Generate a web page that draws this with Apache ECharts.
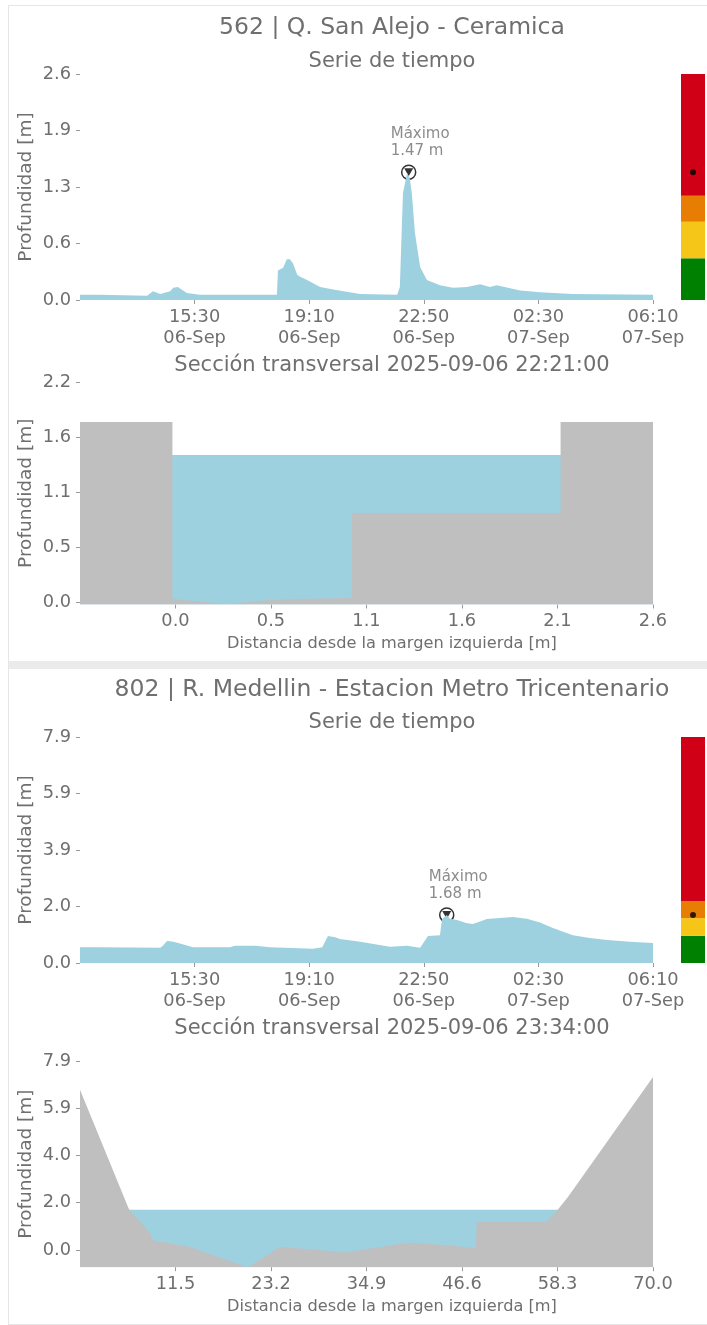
<!DOCTYPE html>
<html>
<head>
<meta charset="utf-8">
<script src="https://cdn.jsdelivr.net/npm/echarts@6/dist/echarts.min.js"></script>
<style>
html,body{margin:0;padding:0;background:#fff;overflow:hidden;width:707px;height:1325px;}
#frame{position:absolute;left:8px;top:5px;width:740px;height:1320px;border:1px solid #e6e6e6;box-sizing:border-box;}
#sep{position:absolute;left:9px;top:661px;width:720px;height:8px;background:#ebebeb;}
#chart{position:absolute;left:0;top:0;width:707px;height:1325px;}
</style>
</head>
<body>
<div id="frame"></div>
<div id="sep"></div>
<div id="chart"></div>
<script>
// ---------- DATA ----------
// Time axis: minutes since 2025-09-06 11:50
const tsTickMinutes = [220, 440, 660, 880, 1100];
const tsTickLabels = ['15:30\n06-Sep', '19:10\n06-Sep', '22:50\n06-Sep', '02:30\n07-Sep', '06:10\n07-Sep'];

// Station 562 time series
const ts1Minutes = [0, 38, 129, 140, 154, 173, 179, 188, 200, 205, 230, 378, 380, 390, 397, 403, 409, 417, 422, 436, 461, 486, 538, 609, 614, 620, 628, 631, 633, 637, 643, 653, 666, 691, 716, 743, 768, 787, 800, 845, 883, 946, 1100];
const ts1Depth   = [0.06, 0.06, 0.05, 0.10, 0.07, 0.10, 0.14, 0.15, 0.10, 0.08, 0.06, 0.06, 0.34, 0.37, 0.47, 0.47, 0.42, 0.29, 0.27, 0.23, 0.15, 0.12, 0.07, 0.06, 0.15, 1.23, 1.46, 1.47, 1.40, 1.23, 0.77, 0.38, 0.23, 0.17, 0.14, 0.15, 0.18, 0.15, 0.17, 0.11, 0.09, 0.07, 0.06];
const ts1YTicks  = [0, 0.65, 1.3, 1.95, 2.6];
const ts1YLabels = ['0.0', '0.6', '1.3', '1.9', '2.6'];
const ts1Levels  = [0.48, 0.9, 1.2, 2.6];   // green, yellow, orange, red upper limits

// Station 562 cross section
const xs1Dist  = [-0.5, 0.0, 0.0, 0.29, 0.53, 0.66, 0.97, 0.97, 2.1, 2.1, 2.6];
const xs1Bed   = [1.80, 1.80, 0.03, -0.02, 0.02, 0.03, 0.04, 0.89, 0.89, 1.80, 1.80];
const xs1XTicks  = [0.0167, 0.5333, 1.05, 1.5667, 2.0833, 2.6];
const xs1XLabels = ['0.0', '0.5', '1.1', '1.6', '2.1', '2.6'];
const xs1YTicks  = [0, 0.55, 1.1, 1.65, 2.2];
const xs1YLabels = ['0.0', '0.5', '1.1', '1.6', '2.2'];

// Station 802 time series
const ts2Minutes = [0, 38, 154, 159, 167, 177, 192, 217, 288, 298, 336, 365, 447, 465, 476, 490, 499, 538, 595, 628, 653, 668, 691, 695, 704, 710, 724, 741, 754, 768, 781, 806, 831, 858, 883, 908, 946, 979, 1012, 1056, 1100];
const ts2Depth   = [0.55, 0.55, 0.53, 0.60, 0.77, 0.75, 0.68, 0.55, 0.55, 0.60, 0.60, 0.55, 0.50, 0.55, 0.94, 0.90, 0.84, 0.74, 0.57, 0.60, 0.53, 0.94, 0.97, 1.54, 1.68, 1.55, 1.50, 1.40, 1.36, 1.45, 1.54, 1.57, 1.61, 1.55, 1.42, 1.22, 0.97, 0.87, 0.80, 0.74, 0.70];
const ts2YTicks  = [0, 1.975, 3.95, 5.925, 7.9];
const ts2YLabels = ['0.0', '2.0', '3.9', '5.9', '7.9'];
const ts2Levels  = [0.95, 1.57, 2.17, 7.9];

// Station 802 cross section
const xs2Dist  = [-0.2, 5.8, 8.5, 8.6, 13.2, 17.1, 20.4, 24.3, 32.3, 40.0, 45.3, 48.3, 48.4, 56.9, 58.3, 59.6, 70.0];
const xs2Bed   = [6.70, 1.70, 0.67, 0.42, 0.14, -0.35, -0.72, 0.14, -0.11, 0.31, 0.19, 0.06, 1.18, 1.18, 1.67, 2.23, 7.23];
const xs2XTicks  = [11.5, 23.2, 34.9, 46.6, 58.3, 70.0];
const xs2XLabels = ['11.5', '23.2', '34.9', '46.6', '58.3', '70.0'];
const xs2YTicks  = [0, 1.975, 3.95, 5.925, 7.9];
const xs2YLabels = ['0.0', '2.0', '4.0', '5.9', '7.9'];

const titles = [
  '562 | Q. San Alejo - Ceramica',
  '802 | R. Medellin - Estacion Metro Tricentenario'
];
const xsTime = ['2025-09-06 22:21:00', '2025-09-06 23:34:00'];

// ---------- STYLE ----------
const TXT = '#6f6f6f';
const FONT = 'DejaVu Sans';
const WATER = '#9dd1e0';
const BED = '#bfbfbf';
const RISK = ['#008000', '#f5c518', '#e87d04', '#d00016'];
const TICK_FS = 17.8;

function pick(ticks, labels) {
  return function (v) {
    for (let i = 0; i < ticks.length; i++) if (Math.abs(ticks[i] - v) < 1e-6) return labels[i];
    return '';
  };
}
function zip(a, b) { return a.map((x, i) => [x, b[i]]); }

function yAx(grid, min, max, ticks, labels) {
  return {
    type: 'value', gridIndex: grid, min: min, max: max,
    name: 'Profundidad [m]', nameLocation: 'middle', nameRotate: 90, nameGap: 44, nameMoveOverlap: false,
    nameTextStyle: { color: TXT, fontSize: 18.5, fontFamily: FONT },
    axisLine: { show: false, onZero: false },
    axisTick: { show: true, length: 4, lineStyle: { color: '#9a9a9a' }, customValues: ticks },
    axisLabel: { color: TXT, fontSize: TICK_FS, fontFamily: FONT, margin: 9, customValues: ticks, formatter: pick(ticks, labels) },
    splitLine: { show: false }
  };
}
function xAxTime(grid) {
  return {
    type: 'value', gridIndex: grid, min: 0, max: 1100,
    axisLine: { show: false, onZero: false },
    axisTick: { show: true, length: 4, lineStyle: { color: '#9a9a9a' }, customValues: tsTickMinutes },
    axisLabel: { color: TXT, fontSize: TICK_FS, fontFamily: FONT, lineHeight: 21, margin: 7, customValues: tsTickMinutes, formatter: pick(tsTickMinutes, tsTickLabels) },
    splitLine: { show: false }
  };
}
function xAxDist(grid, min, max, ticks, labels) {
  return {
    type: 'value', gridIndex: grid, min: min, max: max,
    axisLine: { show: false, onZero: false },
    axisTick: { show: true, length: 4, lineStyle: { color: '#9a9a9a' }, customValues: ticks },
    axisLabel: { color: TXT, fontSize: TICK_FS, fontFamily: FONT, margin: 8, customValues: ticks, formatter: pick(ticks, labels) },
    splitLine: { show: false }
  };
}
function hiddenCat(grid) { return { type: 'category', gridIndex: grid, data: ['nivel'], show: false }; }
function hiddenVal(grid, max) { return { type: 'value', gridIndex: grid, min: 0, max: max, show: false, splitLine: { show: false } }; }

function areaSeries(xi, data, color) {
  return {
    type: 'line', xAxisIndex: xi, yAxisIndex: xi, data: data, symbol: 'none', silent: true,
    lineStyle: { width: 0, opacity: 0 },
    areaStyle: { color: color, opacity: 1, origin: 'start' }
  };
}
function maxSeries(xi, minutes, depth) {
  let mi = 0;
  depth.forEach((d, i) => { if (d > depth[mi]) mi = i; });
  const pt = [minutes[mi], depth[mi]];
  return [
    {
      type: 'scatter', xAxisIndex: xi, yAxisIndex: xi, data: [pt], symbol: 'circle', symbolSize: 14, silent: true,
      itemStyle: { color: '#ffffff', borderColor: '#000', borderWidth: 1.5 },
      label: {
        show: true, position: 'top', distance: 5, align: 'left', offset: [-18, 0],
        color: TXT, fontSize: 15, lineHeight: 17, fontFamily: FONT,
        formatter: function (p) { return 'Máximo\n' + p.value[1].toFixed(2) + ' m'; }
      }
    },
    {
      type: 'scatter', xAxisIndex: xi, yAxisIndex: xi, data: [pt], symbol: 'triangle', symbolRotate: 180, symbolSize: [9, 8], silent: true,
      itemStyle: { color: '#000' }
    }
  ];
}
function riskSeries(xi, levels, value, stackName) {
  const out = [];
  let prev = 0;
  levels.forEach((lv, i) => {
    out.push({
      type: 'bar', xAxisIndex: xi, yAxisIndex: xi, stack: stackName, data: [lv - prev], barWidth: '100%', silent: true,
      itemStyle: { color: RISK[i] }
    });
    prev = lv;
  });
  out.push({
    type: 'scatter', xAxisIndex: xi, yAxisIndex: xi, data: [['nivel', value]], symbolSize: 6, silent: true,
    itemStyle: { color: '#000' }, z: 5
  });
  return out;
}
function txt(text, y, size) {
  return {
    type: 'text', x: 392, y: y, silent: true,
    style: { text: text, fill: TXT, font: size + 'px "' + FONT + '"', textAlign: 'center', textVerticalAlign: 'middle', align: 'center', verticalAlign: 'middle' }
  };
}

const ts1Max = Math.max.apply(null, ts1Depth);
const ts2Max = Math.max.apply(null, ts2Depth);
const XNAME = 'Distancia desde la margen izquierda [m]';

const option = {
  animation: false,
  backgroundColor: 'transparent',
  graphic: [
    txt(titles[0], 28, 23.5),
    txt('Serie de tiempo', 62, 21),
    txt('Sección transversal ' + xsTime[0], 366, 21),
    txt(XNAME, 644, 16.2),
    txt(titles[1], 690, 23.5),
    txt('Serie de tiempo', 723, 21),
    txt('Sección transversal ' + xsTime[1], 1029, 21),
    txt(XNAME, 1307, 16.2)
  ],
  grid: [
    { left: 80, top: 74, width: 573, height: 226 },
    { left: 681, top: 74, width: 24, height: 226 },
    { left: 80, top: 382, width: 573, height: 222.5 },
    { left: 80, top: 737, width: 573, height: 226 },
    { left: 681, top: 737, width: 24, height: 226 },
    { left: 80, top: 1061, width: 573, height: 206.2 }
  ],
  xAxis: [
    xAxTime(0),
    hiddenCat(1),
    xAxDist(2, -0.5, 2.6, xs1XTicks, xs1XLabels),
    xAxTime(3),
    hiddenCat(4),
    xAxDist(5, -0.2, 70, xs2XTicks, xs2XLabels)
  ],
  yAxis: [
    yAx(0, 0, 2.6, ts1YTicks, ts1YLabels),
    hiddenVal(1, 2.6),
    yAx(2, -0.025, 2.2, xs1YTicks, xs1YLabels),
    yAx(3, 0, 7.9, ts2YTicks, ts2YLabels),
    hiddenVal(4, 7.9),
    yAx(5, -0.72, 7.9, xs2YTicks, xs2YLabels)
  ],
  series: [].concat(
    [areaSeries(0, zip(ts1Minutes, ts1Depth), WATER)],
    maxSeries(0, ts1Minutes, ts1Depth),
    riskSeries(1, ts1Levels, ts1Max, 'r1'),
    [areaSeries(2, [[-0.5, ts1Max], [2.6, ts1Max]], WATER)],
    [areaSeries(2, zip(xs1Dist, xs1Bed), BED)],
    [areaSeries(3, zip(ts2Minutes, ts2Depth), WATER)],
    maxSeries(3, ts2Minutes, ts2Depth),
    riskSeries(4, ts2Levels, ts2Max, 'r2'),
    [areaSeries(5, [[-0.2, ts2Max], [70, ts2Max]], WATER)],
    [areaSeries(5, zip(xs2Dist, xs2Bed), BED)]
  )
};

const chart = echarts.init(document.getElementById('chart'), null, { renderer: 'canvas' });
chart.setOption(option);
</script>
</body>
</html>
